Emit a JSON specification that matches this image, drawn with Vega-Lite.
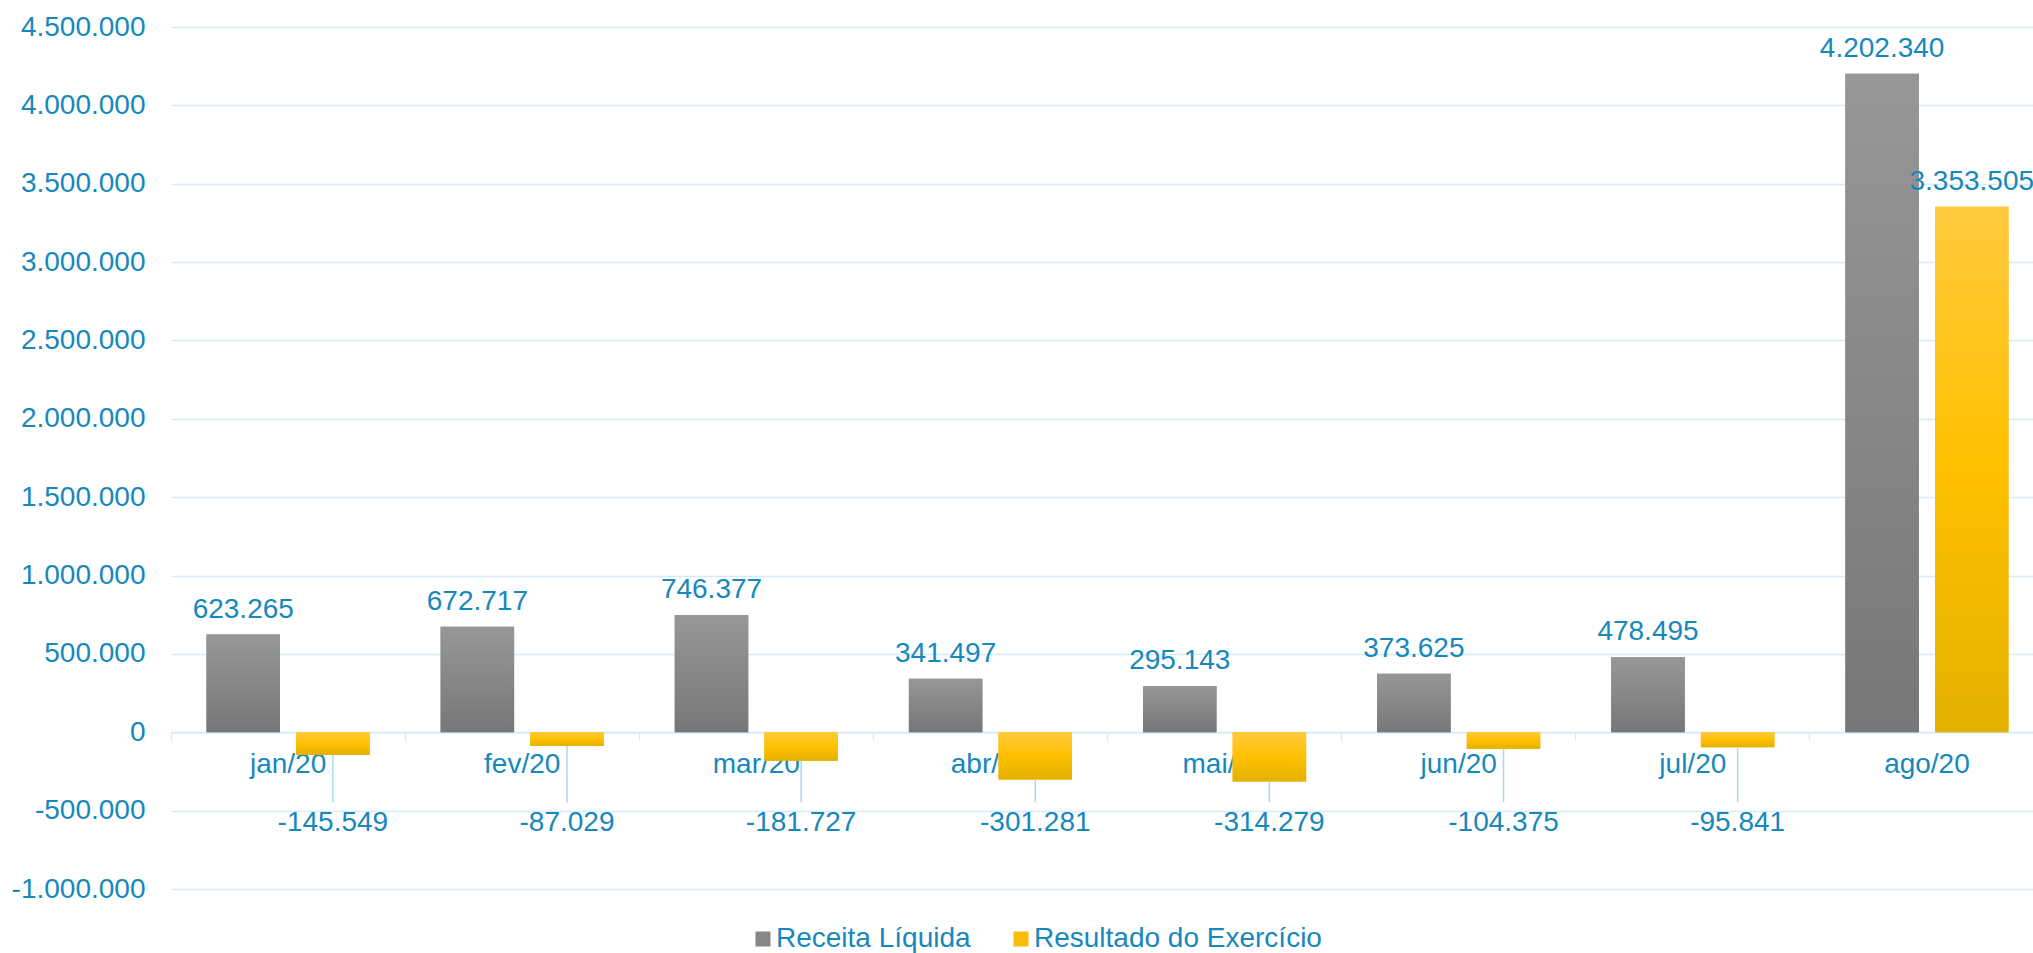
{
  "$schema": "https://vega.github.io/schema/vega-lite/v6.json",
  "width": 1873,
  "height": 862,
  "autosize": {"type": "none"},
  "padding": {"left": 171, "top": 27, "right": -11, "bottom": 64},
  "background": "#ffffff",
  "config": {
    "view": {"stroke": null},
    "font": "Liberation Sans",
    "locale": {"number": {"decimal": ",", "thousands": ".", "grouping": [3], "currency": ["R$ ", ""], "minus": "-"}}
  },
  "data": {
    "values": [
      {"mes": "jan/20", "serie": "Receita Líquida", "valor": 623265},
      {"mes": "jan/20", "serie": "Resultado do Exercício", "valor": -145549},
      {"mes": "fev/20", "serie": "Receita Líquida", "valor": 672717},
      {"mes": "fev/20", "serie": "Resultado do Exercício", "valor": -87029},
      {"mes": "mar/20", "serie": "Receita Líquida", "valor": 746377},
      {"mes": "mar/20", "serie": "Resultado do Exercício", "valor": -181727},
      {"mes": "abr/20", "serie": "Receita Líquida", "valor": 341497},
      {"mes": "abr/20", "serie": "Resultado do Exercício", "valor": -301281},
      {"mes": "mai/20", "serie": "Receita Líquida", "valor": 295143},
      {"mes": "mai/20", "serie": "Resultado do Exercício", "valor": -314279},
      {"mes": "jun/20", "serie": "Receita Líquida", "valor": 373625},
      {"mes": "jun/20", "serie": "Resultado do Exercício", "valor": -104375},
      {"mes": "jul/20", "serie": "Receita Líquida", "valor": 478495},
      {"mes": "jul/20", "serie": "Resultado do Exercício", "valor": -95841},
      {"mes": "ago/20", "serie": "Receita Líquida", "valor": 4202340},
      {"mes": "ago/20", "serie": "Resultado do Exercício", "valor": 3353505}
    ]
  },
  "encoding": {
    "x": {
      "field": "mes", "type": "nominal",
      "sort": ["jan/20", "fev/20", "mar/20", "abr/20", "mai/20", "jun/20", "jul/20", "ago/20"],
      "scale": {"paddingInner": 0, "paddingOuter": 0},
      "axis": {
        "title": null, "orient": "bottom", "offset": -156.73,
        "domainColor": "#d5ecf8", "domainWidth": 1.5,
        "ticks": true, "tickColor": "#d5ecf8", "tickWidth": 1.5, "tickSize": 8, "bandPosition": 0,
        "labelFontSize": 28, "labelColor": "#1788bb", "labelFont": "Liberation Sans",
        "labelAngle": 0, "labelPadding": 32, "labelBaseline": "alphabetic", "grid": false
      }
    },
    "xOffset": {
      "field": "serie", "type": "nominal",
      "scale": {"paddingInner": 0.18, "paddingOuter": 0.396}
    }
  },
  "layer": [
    {
      "mark": {"type": "bar"},
      "encoding": {
        "y": {
          "field": "valor", "type": "quantitative",
          "scale": {"domain": [-1000000, 4500000], "nice": false, "zero": true},
          "axis": {
            "title": null, "domain": false, "ticks": false,
            "values": [-1000000, -500000, 0, 500000, 1000000, 1500000, 2000000, 2500000, 3000000, 3500000, 4000000, 4500000],
            "format": ",d", "labelFontSize": 28, "labelColor": "#1788bb", "labelFont": "Liberation Sans",
            "labelPadding": 26, "grid": true, "gridColor": "#d5ecf8", "gridWidth": 1.5
          }
        },
        "color": {
          "field": "serie", "type": "nominal",
          "scale": {
            "domain": ["Receita Líquida", "Resultado do Exercício"],
            "range": ["#878787", "#f7bd0a"]
          },
          "legend": {
            "title": null, "orient": "none", "direction": "horizontal",
            "legendX": 578, "legendY": 898,
            "symbolType": "square", "symbolSize": 225, "symbolStrokeWidth": 0,
            "labelFontSize": 28, "labelColor": "#1788bb", "labelFont": "Liberation Sans",
            "labelOffset": -1, "columnPadding": 36, "labelLimit": 0,
            "encode": {
              "symbols": {
                "update": {
                  "fill": {"signal": "datum.value === 'Receita Líquida' ? {gradient: 'linear', x1: 0, y1: 0, x2: 0, y2: 1, stops: [{offset: 0, color: '#979797'}, {offset: 1, color: '#777777'}]} : {gradient: 'linear', x1: 0, y1: 0, x2: 0, y2: 1, stops: [{offset: 0, color: '#ffca3d'}, {offset: 0.5, color: '#ffc000'}, {offset: 1, color: '#e3b100'}]}"}
                }
              }
            }
          }
        }
      }
    },
    {
      "mark": {"type": "bar"},
      "encoding": {
        "y": {"field": "valor", "type": "quantitative"},
        "color": {
          "condition": {
            "test": "datum.serie === 'Receita Líquida'",
            "value": {"gradient": "linear", "x1": 0, "y1": 0, "x2": 0, "y2": 1, "stops": [{"offset": 0, "color": "#979797"}, {"offset": 1, "color": "#777777"}]}
          },
          "value": {"gradient": "linear", "x1": 0, "y1": 0, "x2": 0, "y2": 1, "stops": [{"offset": 0, "color": "#ffca3d"}, {"offset": 0.5, "color": "#ffc000"}, {"offset": 1, "color": "#e3b100"}]}
        }
      }
    },
    {
      "transform": [{"filter": "datum.valor > 0"}],
      "mark": {"type": "text", "baseline": "alphabetic", "align": "center", "dy": -17, "fontSize": 28, "color": "#1788bb", "font": "Liberation Sans"},
      "encoding": {
        "y": {"field": "valor", "type": "quantitative"},
        "text": {"field": "valor", "type": "quantitative", "format": ",d"}
      }
    },
    {
      "transform": [{"filter": "datum.valor < 0"}],
      "mark": {"type": "rule", "color": "#a3d9f2", "strokeWidth": 1.5},
      "encoding": {
        "y": {"field": "valor", "type": "quantitative"},
        "y2": {"datum": -446000}
      }
    },
    {
      "transform": [{"filter": "datum.valor < 0"}],
      "mark": {"type": "text", "baseline": "alphabetic", "align": "center", "fontSize": 28, "color": "#1788bb", "font": "Liberation Sans"},
      "encoding": {
        "y": {"datum": -632000, "type": "quantitative"},
        "text": {"field": "valor", "type": "quantitative", "format": ",d"}
      }
    }
  ]
}
